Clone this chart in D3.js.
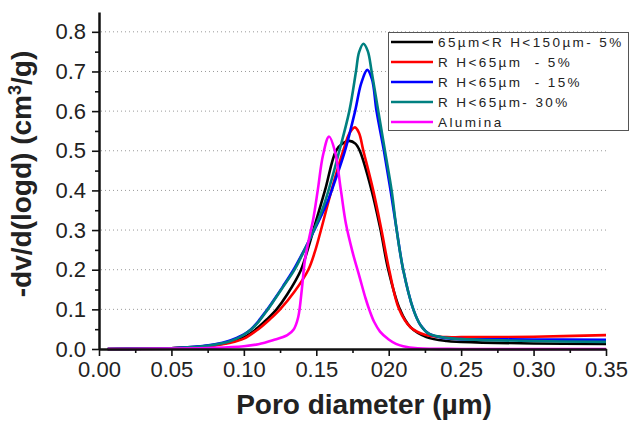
<!DOCTYPE html>
<html><head><meta charset="utf-8">
<script src="https://cdn.jsdelivr.net/npm/d3@7"></script>
<style>body{margin:0;background:#fff}svg{display:block}</style>
</head><body>
<svg id="c" width="630" height="422"></svg>
<script>
const seriesNames = ["65\u00b5m<R H<150\u00b5m- 5%", "R H<65\u00b5m  - 5%", "R H<65\u00b5m  - 15%", "R H<65\u00b5m- 30%", "Alumina"];
const seriesColors = ["#000000", "#ff0000", "#0000ff", "#008080", "#ff00ff"];

const blackX = [0.006,0.03,0.05,0.07,0.08,0.09,0.10,0.105,0.11,0.116,0.1226,0.13,0.1395,0.144,0.148,0.156,0.1636,0.168,0.1728,0.177,0.18,0.1882,0.1944,0.1997,0.2077,0.215,0.226,0.24,0.25,0.30,0.35];
const blackY = [0,0.0005,0.002,0.006,0.01,0.017,0.029,0.04,0.055,0.075,0.1,0.138,0.2,0.25,0.3,0.4,0.5,0.518,0.525,0.518,0.5,0.4,0.3,0.2,0.1,0.055,0.03,0.02,0.018,0.014,0.013];

const redX = [0.006,0.03,0.05,0.07,0.08,0.09,0.10,0.11,0.118,0.125,0.135,0.1445,0.149,0.1525,0.1605,0.1686,0.173,0.1767,0.1795,0.1825,0.1893,0.195,0.2003,0.2072,0.215,0.225,0.24,0.25,0.30,0.35];
const redY = [0,0.0005,0.002,0.005,0.009,0.015,0.026,0.05,0.075,0.1,0.145,0.2,0.245,0.29,0.4,0.5,0.545,0.559,0.545,0.5,0.4,0.3,0.2,0.1,0.055,0.036,0.03,0.03,0.031,0.035];

const blueX = [0.006,0.03,0.05,0.07,0.08,0.09,0.095,0.10,0.105,0.11,0.1146,0.12,0.127,0.134,0.141,0.148,0.1576,0.163,0.1698,0.1768,0.181,0.1852,0.1885,0.1916,0.1967,0.2013,0.2055,0.21,0.217,0.222,0.228,0.24,0.25,0.30,0.35];
const blueY = [0,0.0005,0.002,0.007,0.012,0.021,0.028,0.037,0.05,0.07,0.092,0.12,0.158,0.198,0.245,0.295,0.37,0.425,0.5,0.6,0.67,0.704,0.68,0.6,0.5,0.4,0.3,0.2,0.1,0.06,0.038,0.027,0.025,0.024,0.023];

const tealX = [0.006,0.03,0.05,0.07,0.08,0.09,0.095,0.10,0.105,0.11,0.1146,0.12,0.127,0.135,0.141,0.148,0.155,0.16,0.1652,0.1728,0.1774,0.1795,0.1825,0.1855,0.1882,0.1928,0.1974,0.202,0.2055,0.21,0.217,0.222,0.228,0.24,0.25,0.30,0.35];
const tealY = [0,0.0005,0.002,0.006,0.011,0.019,0.026,0.036,0.049,0.068,0.09,0.118,0.156,0.2,0.243,0.297,0.36,0.42,0.49,0.6,0.7,0.748,0.77,0.752,0.7,0.6,0.5,0.4,0.3,0.2,0.1,0.06,0.038,0.028,0.025,0.02,0.018];

const aluminaX = [0.006,0.05,0.08,0.10,0.11,0.12,0.13,0.1345,0.1375,0.14,0.142,0.1445,0.148,0.151,0.1547,0.1588,0.1628,0.167,0.1705,0.175,0.18,0.184,0.187,0.19,0.194,0.20,0.205,0.21,0.22,0.25,0.35];
const aluminaY = [0,0.001,0.003,0.007,0.012,0.022,0.035,0.05,0.08,0.15,0.22,0.27,0.33,0.4,0.49,0.536,0.5,0.4,0.315,0.245,0.18,0.128,0.095,0.068,0.044,0.024,0.013,0.007,0.002,0,0];

const xTicks = [0,0.05,0.10,0.15,0.20,0.25,0.30,0.35];
const xTickLabels = ["0.00","0.05","0.10","0.15","020","0.25","0.30","0.35"];
const xMinor = [0.025,0.075,0.125,0.175,0.225,0.275,0.325];
const yTicks = [0,0.1,0.2,0.3,0.4,0.5,0.6,0.7,0.8];
const yTickLabels = ["0.0","0.1","0.2","0.3","0.4","0.5","0.6","0.7","0.8"];
const yMinor = [0.05,0.15,0.25,0.35,0.45,0.55,0.65,0.75];
const gridVals = [0.1,0.2,0.3,0.4,0.5,0.6,0.7,0.8];

const allX = [blackX, redX, blueX, tealX, aluminaX];
const allY = [blackY, redY, blueY, tealY, aluminaY];

const svg = d3.select("#c");
const x = d3.scaleLinear().domain([0,0.35]).range([99,606]);
const y = d3.scaleLinear().domain([0,0.85]).range([349,12]);

// grid
svg.append("g").selectAll("line").data(gridVals).join("line")
  .attr("x1", x(0)+2).attr("x2", x(0.35))
  .attr("y1", d=>y(d)).attr("y2", d=>y(d))
  .attr("stroke", "#9a9a9a").attr("stroke-width", 1).attr("stroke-dasharray", "1,3");

// lines
const line = d3.line().curve(d3.curveCatmullRom.alpha(0.5));
allX.forEach((xs,i)=>{
  const pts = xs.map((v,j)=>[x(v), Math.min(y(0), y(allY[i][j]))]);
  svg.append("path").attr("d", line(pts)).attr("fill","none")
    .attr("stroke", seriesColors[i]).attr("stroke-width", 2.6).attr("stroke-linejoin","round");
});

const font = "Liberation Sans, Arial, sans-serif";
// axes
svg.append("g").attr("transform", `translate(0,${y(0)})`)
  .call(d3.axisBottom(x).tickValues(xTicks).tickFormat((d,i)=>xTickLabels[i]).tickSize(7).tickSizeOuter(0).tickPadding(5));
svg.append("g").attr("transform", `translate(0,${y(0)})`)
  .call(d3.axisBottom(x).tickValues(xMinor).tickFormat("").tickSize(4).tickSizeOuter(0))
  .select(".domain").remove();
svg.append("g").attr("transform", `translate(${x(0)},0)`)
  .call(d3.axisLeft(y).tickValues(yTicks).tickFormat((d,i)=>yTickLabels[i]).tickSize(7).tickSizeOuter(0).tickPadding(6));
svg.append("g").attr("transform", `translate(${x(0)},0)`)
  .call(d3.axisLeft(y).tickValues(yMinor).tickFormat("").tickSize(4).tickSizeOuter(0))
  .select(".domain").remove();
svg.selectAll(".domain").attr("stroke","#111").attr("stroke-width",2.5);
svg.selectAll(".tick line").attr("stroke","#111").attr("stroke-width",1.6);
svg.selectAll(".tick text").attr("font-family", font).attr("font-size", 22).attr("fill","#222");

// axis titles
svg.append("text").attr("x", 364).attr("y", 414).attr("text-anchor","middle")
  .attr("font-family", font).attr("font-weight","bold").attr("font-size", 28).attr("fill","#222")
  .text("Poro diameter (\u00b5m)");
const yt = svg.append("text").attr("transform","translate(31,174) rotate(-90)").attr("text-anchor","middle")
  .attr("font-family", font).attr("font-weight","bold").attr("font-size", 28).attr("fill","#222");
yt.append("tspan").text("-dv/d(logd) (cm");
yt.append("tspan").attr("font-size", 18).attr("dy", -10).text("3");
yt.append("tspan").attr("dy", 10).text("/g)");

// legend
const lg = svg.append("g");
lg.append("rect").attr("x", 388.5).attr("y", 32.5).attr("width", 240).attr("height", 98)
  .attr("fill","#fff").attr("stroke","#555").attr("stroke-width",1);
seriesNames.forEach((n,i)=>{
  const yy = 42 + i*20;
  lg.append("line").attr("x1",391).attr("x2",433).attr("y1",yy).attr("y2",yy)
    .attr("stroke", seriesColors[i]).attr("stroke-width",2.6);
  lg.append("text").attr("x",438).attr("y",yy+5).attr("font-family", font).attr("font-size",13.5)
    .attr("letter-spacing","2.4px").style("white-space","pre").attr("fill","#222").text(n);
});
</script>
</body></html>
